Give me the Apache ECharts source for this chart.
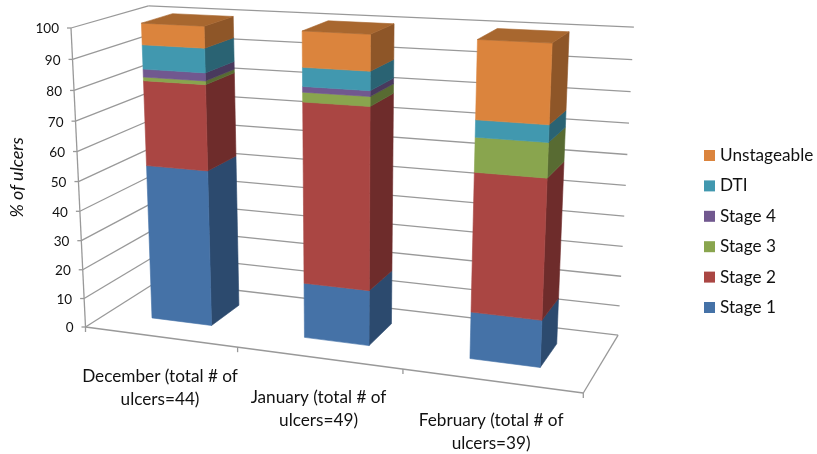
<!DOCTYPE html>
<html><head><meta charset="utf-8"><style>html,body{margin:0;padding:0;background:#fff}#c{width:817px;height:454px}</style>
<script src="https://cdn.jsdelivr.net/npm/echarts@6/dist/echarts.min.js"></script></head>
<body><div id="c"></div><script>
const categories = ["December (total # of\nulcers=44)", "January (total # of\nulcers=49)", "February (total # of\nulcers=39)"];
const yTicks = [0,10,20,30,40,50,60,70,80,90,100];
const stage1 = [53.0, 18.5, 15.3];
const stage2 = [28.3, 59.3, 44.5];
const stage3 = [1.2, 3.1, 10.8];
const stage4 = [2.6, 1.8, 0];
const dti = [7.9, 6.0, 5.3];
const unstageable = [7.0, 11.3, 24.1];
const stageNames = ["Stage 1","Stage 2","Stage 3","Stage 4","DTI","Unstageable"];
const stageValues = [stage1,stage2,stage3,stage4,dti,unstageable];
const frontColors = ["#4572A7","#AA4643","#89A54E","#71588F","#4198AF","#DB843D"];
const sideColors = ["#2C4A6E","#6E2C2B","#586B32","#49395D","#2A6373","#8E5628"];
const topColor = "#A8672F";
const wallColor = "#999999";
const textColor = "#111111";
const FONT = "Lato, Carlito, 'Open Sans', sans-serif";

// Perspective of the 3-D box: projects (u across, v up, t into the page), each 0..1.
const O=[85.5,327], B=[583.3,393], C=[158,281], E=[71,28];
const qu=-0.12, qv=-0.053, qt=0.091;
const au=[B[0]*(1+qu)-O[0],B[1]*(1+qu)-O[1]];
const av=[E[0]*(1+qv)-O[0],E[1]*(1+qv)-O[1]];
const at=[C[0]*(1+qt)-O[0],C[1]*(1+qt)-O[1]];
function proj(u,v,t){
  const w=1+u*qu+v*qv+t*qt;
  return [(O[0]+u*au[0]+v*av[0]+t*at[0])/w,(O[1]+u*au[1]+v*av[1]+t*at[1])/w];
}
const BAR=0.4, T0=0.3, T1=0.72;
function norm(api,sys,cat,val){
  const p=api.coord([cat,val]);
  return [(p[0]-sys.x)/sys.width,(sys.y+sys.height-p[1])/sys.height];
}
function poly(points,fill){return {type:'polygon',shape:{points},style:{fill,stroke:fill,lineWidth:0.6}};}
function seg(a,b){return {type:'line',shape:{x1:a[0],y1:a[1],x2:b[0],y2:b[1]},style:{stroke:wallColor,lineWidth:1.3,fill:null}};}

function barItem(idx){return function(params,api){
  const cat=api.value(0), s=api.value(1), e=api.value(2), sys=params.coordSys;
  const a=norm(api,sys,cat,s), b=norm(api,sys,cat,e);
  const half=api.size([1,0])[0]*BAR/2/sys.width;
  const u0=a[0]-half,u1=a[0]+half,v0=a[1],v1=b[1];
  const kids=[
    poly([proj(u1,v0,T0),proj(u1,v0,T1),proj(u1,v1,T1),proj(u1,v1,T0)],sideColors[idx]),
    poly([proj(u0,v0,T0),proj(u1,v0,T0),proj(u1,v1,T0),proj(u0,v1,T0)],frontColors[idx])
  ];
  if(idx===stageNames.length-1) kids.push(poly([proj(u0,v1,T0),proj(u1,v1,T0),proj(u1,v1,T1),proj(u0,v1,T1)],topColor));
  return {type:'group',children:kids};
};}
function wallItem(params,api){
  const sys=params.coordSys, v=norm(api,sys,0,api.value(0))[1];
  const kids=[seg(proj(0,v,0),proj(0,v,1)),seg(proj(0,v,1),proj(1,v,1))];
  const p=proj(0,v,0);
  kids.push(seg([p[0]-4,p[1]],p));
  kids.push({type:'text',style:{text:String(api.value(0)),x:p[0]-12,y:p[1]+1,align:'right',verticalAlign:'middle',font:"13.5px "+FONT,fill:textColor}});
  return {type:'group',children:kids};
}
function floorItem(params,api){
  const kids=[seg(proj(0,0,0),proj(1,0,0)),seg(proj(1,0,0),proj(1,0,1)),seg(proj(0,0,0),proj(0,1,0))];
  for(let i=0;i<=3;i++){const p=proj(i/3,0,0);kids.push(seg(p,[p[0],p[1]+5]));}
  return {type:'group',children:kids};
}
function labelItem(params,api){
  const sys=params.coordSys,cat=api.value(0),n=norm(api,sys,cat,0),p=proj(n[0],0,0);
  return {type:'text',style:{text:categories[cat],x:p[0],y:p[1]+28,align:'center',verticalAlign:'top',font:"17.2px "+FONT,lineHeight:23,fill:textColor}};
}

const starts=[0,0,0];
const barSeries=stageNames.map((name,i)=>{
  const data=[];
  stageValues[i].forEach((val,c)=>{ if(val>0) data.push([c,starts[c],starts[c]+val]); starts[c]+=val; });
  return {type:'custom',name,coordinateSystem:'cartesian2d',renderItem:barItem(i),data,
    encode:{x:0,y:[1,2]},itemStyle:{color:frontColors[i]},silent:true,clip:false};
});

const chart=echarts.init(document.getElementById('c'),null,{renderer:'canvas'});
chart.setOption({
  animation:false,
  backgroundColor:'#fff',
  color:frontColors,
  grid:{left:85,right:234,top:28,bottom:127},
  xAxis:{type:'category',data:categories.map((c,i)=>i),show:false},
  yAxis:{type:'value',min:0,max:100,interval:10,name:'% of ulcers',nameLocation:'middle',nameRotate:90,nameGap:68,
    nameTextStyle:{fontFamily:FONT,fontStyle:'italic',fontSize:18,color:textColor},
    axisLine:{show:false},axisTick:{show:false},axisLabel:{show:false},splitLine:{show:false}},
  legend:{data:stageNames.slice().reverse().map(name=>({name,icon:'rect'})),orient:'vertical',left:704,top:147,itemWidth:11,itemHeight:11,itemGap:13.4,
    selectedMode:false,textStyle:{fontFamily:FONT,fontSize:17.2,color:textColor,padding:[0,0,0,0]},padding:0},
  series:[
    {type:'custom',coordinateSystem:'cartesian2d',renderItem:wallItem,data:yTicks.map(v=>[v]),encode:{y:0},silent:true,clip:false},
    {type:'custom',coordinateSystem:'cartesian2d',renderItem:floorItem,data:[[0]],silent:true,clip:false},
    ...barSeries,
    {type:'custom',coordinateSystem:'cartesian2d',renderItem:labelItem,data:categories.map((c,i)=>[i]),encode:{x:0},silent:true,clip:false}
  ]
});
</script></body></html>
